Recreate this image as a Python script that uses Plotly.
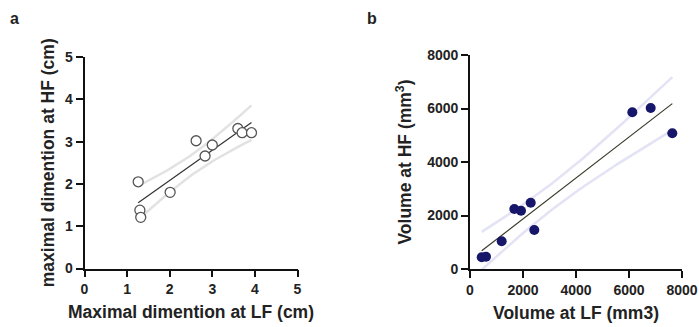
import numpy as np
import plotly.graph_objects as go

# Panel a data (cm)
lf_dim = [1.26, 1.30, 1.32, 2.01, 2.62, 2.83, 3.00, 3.60, 3.70, 3.92]
hf_dim = [2.05, 1.38, 1.21, 1.80, 3.02, 2.66, 2.92, 3.31, 3.21, 3.21]

# Panel b data (mm3)
lf_vol = [442, 604, 1196, 1672, 1925, 2291, 2426, 6125, 6819, 7634]
hf_vol = [437, 460, 1035, 2243, 2179, 2478, 1458, 5858, 6019, 5073]

ticks_a = [0, 1, 2, 3, 4, 5]
ticks_b = [0, 2000, 4000, 6000, 8000]

T95 = 2.306  # t(0.975, df=8)


def fit(xs, ys):
    x = np.array(xs, float)
    y = np.array(ys, float)
    n = len(x)
    b, a = np.polyfit(x, y, 1)
    resid = y - (a + b * x)
    s = np.sqrt(np.sum(resid ** 2) / (n - 2))
    xx = np.linspace(x.min(), x.max(), 60)
    yy = a + b * xx
    se = s * np.sqrt(1 / n + (xx - x.mean()) ** 2 / np.sum((x - x.mean()) ** 2))
    return xx, yy, yy - T95 * se, yy + T95 * se


fig = go.Figure()

FONT = "Liberation Sans, Arial, sans-serif"

# Panel a
xx, yy, lo, hi = fit(lf_dim, hf_dim)
for band in (lo, hi):
    fig.add_trace(go.Scatter(x=xx, y=band, mode="lines", xaxis="x", yaxis="y",
                             line=dict(color="rgba(190,190,190,0.45)", width=2.5),
                             showlegend=False, hoverinfo="skip"))
fig.add_trace(go.Scatter(x=xx, y=yy, mode="lines", xaxis="x", yaxis="y",
                         line=dict(color="#333333", width=1.2), showlegend=False))
fig.add_trace(go.Scatter(x=lf_dim, y=hf_dim, mode="markers", xaxis="x", yaxis="y",
                         marker=dict(size=10, color="white", line=dict(color="#555555", width=1.3)),
                         showlegend=False))

# Panel b
xx, yy, lo, hi = fit(lf_vol, hf_vol)
for band in (lo, hi):
    fig.add_trace(go.Scatter(x=xx, y=band, mode="lines", xaxis="x2", yaxis="y2",
                             line=dict(color="rgba(200,200,235,0.5)", width=2.5),
                             showlegend=False, hoverinfo="skip"))
fig.add_trace(go.Scatter(x=xx, y=yy, mode="lines", xaxis="x2", yaxis="y2",
                         line=dict(color="#3a3a2a", width=1.2), showlegend=False))
fig.add_trace(go.Scatter(x=lf_vol, y=hf_vol, mode="markers", xaxis="x2", yaxis="y2",
                         marker=dict(size=10, color="#16166a"),
                         showlegend=False))

W, H = 699, 327
axis_common = dict(showgrid=False, zeroline=False, showline=True, linecolor="#111",
                   linewidth=1.8, ticks="outside", ticklen=7, tickwidth=1.8,
                   tickcolor="#111", tickfont=dict(family=FONT, size=14, color="#222"),
                   title_font=dict(family=FONT, size=17.5, color="#222"),
                   automargin=False)

fig.update_layout(
    width=W, height=H, margin=dict(l=0, r=0, t=0, b=0),
    paper_bgcolor="white", plot_bgcolor="white",
    font=dict(family=FONT, color="#222", size=14),
    xaxis=dict(domain=[84.5 / W, 297.5 / W], range=[0, 5], tickvals=ticks_a,
               ticktext=[f"<b>{t}</b>" for t in ticks_a],
               title=dict(text="<b>Maximal dimention at LF (cm)</b>", standoff=10),
               anchor="y", **axis_common),
    yaxis=dict(domain=[1 - 268.5 / H, 1 - 57 / H], range=[0, 5], tickvals=ticks_a,
               ticktext=[f"<b>{t}</b>" for t in ticks_a],
               title=dict(text="<b>maximal dimention at HF (cm)</b>", standoff=6),
               anchor="x", **axis_common),
    xaxis2=dict(domain=[470 / W, 682 / W], range=[0, 8000], tickvals=ticks_b,
                ticktext=[f"<b>{t}</b>" for t in ticks_b],
                title=dict(text="<b>Volume at LF (mm3)</b>", standoff=10),
                anchor="y2", **axis_common),
    yaxis2=dict(domain=[1 - 269 / H, 1 - 55 / H], range=[0, 8000], tickvals=ticks_b,
                ticktext=[f"<b>{t}</b>" for t in ticks_b],
                title=dict(text="<b>Volume at HF (mm<sup>3</sup>)</b>", standoff=11),
                anchor="x2", **axis_common),
    annotations=[
        dict(text="<b>a</b>", x=14 / W, y=1 - 18 / H, xref="paper", yref="paper",
             xanchor="center", yanchor="middle",
             showarrow=False, font=dict(family=FONT, size=16, color="#222")),
        dict(text="<b>b</b>", x=372 / W, y=1 - 18 / H, xref="paper", yref="paper",
             xanchor="center", yanchor="middle",
             showarrow=False, font=dict(family=FONT, size=16, color="#222")),
    ],
)

fig.write_html("out.html")
